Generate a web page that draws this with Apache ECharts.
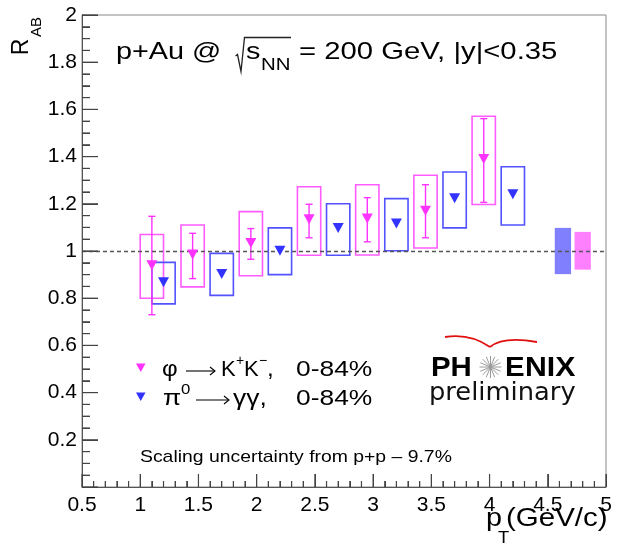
<!DOCTYPE html>
<html>
<head>
<meta charset="utf-8">
<script src="https://cdn.jsdelivr.net/npm/echarts@6/dist/echarts.min.js"></script>
<style>
html,body{margin:0;padding:0;background:#fff;}
#chart{width:634px;height:547px;}
</style>
</head>
<body>
<div id="chart"></div>
<script>
// ---- data ----
var phiPt      = [1.1, 1.45, 1.95, 2.45, 2.95, 3.45, 3.95];
var phiR       = [0.94, 0.985, 1.034, 1.135, 1.138, 1.171, 1.39];
var phiStatLo  = [0.73, 0.883, 0.965, 1.056, 1.039, 1.056, 1.206];
var phiStatHi  = [1.147, 1.075, 1.095, 1.198, 1.226, 1.281, 1.561];
var phiSysLo   = [0.80, 0.848, 0.895, 0.982, 0.983, 1.013, 1.197];
var phiSysHi   = [1.07, 1.11, 1.167, 1.272, 1.281, 1.321, 1.571];

var pi0Pt      = [1.2, 1.7, 2.2, 2.7, 3.2, 3.7, 4.2];
var pi0R       = [0.868, 0.903, 1.001, 1.097, 1.117, 1.223, 1.24];
var pi0SysLo   = [0.776, 0.812, 0.90, 0.982, 1.001, 1.098, 1.11];
var pi0SysHi   = [0.952, 0.99, 1.098, 1.20, 1.222, 1.335, 1.357];

// global scaling uncertainty boxes: [pi0, phi]
var scalePt    = [4.63, 4.80];
var scaleLo    = [0.902, 0.921];
var scaleHi    = [1.098, 1.081];

var xTicks = [0.5, 1, 1.5, 2, 2.5, 3, 3.5, 4, 4.5, 5];
var yTicks = [0.2, 0.4, 0.6, 0.8, 1, 1.2, 1.4, 1.6, 1.8, 2];

// ---- styling ----
var MAG = '#ff33ff', MAG_BOX = '#ff5cff', MAG_FILL = '#ff80ff';
var BLU = '#3333ff', BLU_BOX = '#5252ff', BLU_FILL = '#8080ff';
var FONT = '"Liberation Sans", Arial, Helvetica, sans-serif';
var BOX_HW = 0.1, SCALE_HW = 0.07;
var X_MIN = 0.5, X_MAX = 5, Y_MIN = 0, Y_MAX = 2;
var W = 634, H = 547, G_L = 82, G_R = 28, G_T = 15, G_B = 60;

function zip3(a,b,c){ return a.map(function(v,i){ return [v,b[i],c[i]]; }); }
function zip2(a,b){ return a.map(function(v,i){ return [v,b[i]]; }); }

function boxRenderer(color, hw){
  return function(params, api){
    var x = api.value(0), lo = api.value(1), hi = api.value(2);
    var p1 = api.coord([x - hw, hi]), p2 = api.coord([x + hw, lo]);
    return {type:'rect', shape:{x:p1[0], y:p1[1], width:p2[0]-p1[0], height:p2[1]-p1[1]},
      style:{fill:'none', stroke:color, lineWidth:1.6}};
  };
}
function fillRenderer(colors, hw){
  return function(params, api){
    var x = api.value(0), lo = api.value(1), hi = api.value(2);
    var p1 = api.coord([x - hw, hi]), p2 = api.coord([x + hw, lo]);
    return {type:'rect', shape:{x:p1[0], y:p1[1], width:p2[0]-p1[0], height:p2[1]-p1[1]},
      style:{fill:colors[params.dataIndex], stroke:null}};
  };
}
function errRenderer(color){
  return function(params, api){
    var x = api.value(0), lo = api.value(1), hi = api.value(2);
    var pt = api.coord([x, hi]), pb = api.coord([x, lo]);
    var c = 3.5;
    return {type:'group', children:[
      {type:'line', shape:{x1:pt[0], y1:pt[1], x2:pb[0], y2:pb[1]}, style:{stroke:color, lineWidth:1.4}},
      {type:'line', shape:{x1:pt[0]-c, y1:pt[1], x2:pt[0]+c, y2:pt[1]}, style:{stroke:color, lineWidth:1.4}},
      {type:'line', shape:{x1:pb[0]-c, y1:pb[1], x2:pb[0]+c, y2:pb[1]}, style:{stroke:color, lineWidth:1.4}}
    ]};
  };
}

function fmt(v){ return String(Math.round(v*10)/10); }

// star spokes for the logo
var starSpokes = [];
(function(){
  var cx = 490.5, cy = 367, r = 11, n = 16;
  for (var i = 0; i < n; i++){
    var a = i * Math.PI * 2 / n;
    starSpokes.push({type:'line', shape:{x1:cx, y1:cy, x2:cx + r*Math.cos(a), y2:cy + r*Math.sin(a)},
      style:{stroke:'#9a9a9a', lineWidth:1}});
  }
})();

function txt(x, y, s, size, sx, extra){
  var st = {text:s, fontFamily:FONT, fontSize:size, fill:'#000', align:'left', verticalAlign:'middle'};
  if (extra) for (var k in extra) st[k] = extra[k];
  return {type:'text', x:x, y:y, scaleX:sx || 1, style:st};
}
function arrow(x0, x1, y){
  return {type:'group', children:[
    {type:'line', shape:{x1:x0, y1:y, x2:x1, y2:y}, style:{stroke:'#000', lineWidth:1.1}},
    {type:'polyline', shape:{points:[[x1-5,y-4],[x1,y],[x1-5,y+4]]}, style:{stroke:'#000', lineWidth:1.1, fill:null}}
  ]};
}

// axis tick marks along the frame's left and bottom edges
var ticks = [];
(function(){
  var plotW = W - G_L - G_R, plotH = H - G_T - G_B, i;
  for (i = 5; i <= 50; i++){
    var px = G_L + (i/10 - X_MIN) / (X_MAX - X_MIN) * plotW;
    var lx = (i % 5 === 0) ? 13 : 6;
    ticks.push({type:'line', z:100, shape:{x1:px, y1:H - G_B, x2:px, y2:H - G_B - lx}, style:{stroke:'#444', lineWidth:1.2}});
  }
  for (i = 0; i <= 40; i++){
    var py = H - G_B - (i/20 - Y_MIN) / (Y_MAX - Y_MIN) * plotH;
    var ly = (i % 4 === 0) ? 16 : 8;
    ticks.push({type:'line', z:100, shape:{x1:G_L, y1:py, x2:G_L + ly, y2:py}, style:{stroke:'#444', lineWidth:1.2}});
  }
})();

var decor = [
  // y-axis title R_AB
  {type:'text', x:22, y:47, rotation:Math.PI/2, style:{text:'R', fontFamily:FONT, fontSize:23, fill:'#000', align:'center', verticalAlign:'middle'}},
  {type:'text', x:37, y:27, rotation:Math.PI/2, style:{text:'AB', fontFamily:FONT, fontSize:15, fill:'#000', align:'center', verticalAlign:'middle'}},
  // x-axis title p_T(GeV/c)
  txt(486, 519, 'p', 25, 1.15),
  txt(498, 539, 'T', 16, 1.15),
  txt(506, 519, '(GeV/c)', 25, 1.18),
  // header text
  txt(116, 52, 'p+Au @', 24, 1.2),
  {type:'polyline', shape:{points:[[235.5,56],[237.5,54.5],[241,71.5],[244.5,37.5],[291,37.5]]}, style:{stroke:'#222', lineWidth:1.3, fill:null}},
  txt(246, 52, 's', 24, 1.2),
  txt(261, 65, 'NN', 17, 1.2),
  txt(299, 52, '= 200 GeV, |y|<0.35', 24, 1.22),
  // legend row 1: phi -> K+K-
  {type:'polygon', shape:{points:[[136,363.5],[145.5,363.5],[140.75,372]]}, style:{fill:MAG}},
  txt(162, 370, 'φ', 22, 1.1),
  arrow(186, 215, 371),
  txt(221, 370, 'K', 22, 1.0),
  txt(236, 361, '+', 14, 1.0),
  txt(244, 370, 'K', 22, 1.0),
  txt(259, 361, '−', 14, 1.0),
  txt(267, 370, ',', 22, 1.1),
  txt(296, 370, '0-84%', 22, 1.2),
  // legend row 2: pi0 -> gamma gamma
  {type:'polygon', shape:{points:[[136,392.5],[145.5,392.5],[140.75,401]]}, style:{fill:BLU}},
  txt(163, 399, 'π', 22, 1.2),
  txt(181, 390, '0', 14, 1.2),
  arrow(196, 229, 400),
  txt(233, 399, 'γγ,', 22, 1.2),
  txt(296, 399, '0-84%', 22, 1.2),
  // PHENIX preliminary logo
  {type:'bezierCurve', shape:{x1:445, y1:337, cpx1:470, cpy1:333, x2:490, y2:347}, style:{stroke:'#e01010', lineWidth:1.8, fill:null}},
  {type:'bezierCurve', shape:{x1:490, y1:347, cpx1:503, cpy1:336, x2:537, y2:342}, style:{stroke:'#e01010', lineWidth:1.8, fill:null}},
  txt(431, 368, 'PH', 28, 1.05, {fontWeight:'bold'}),
  {type:'group', children:starSpokes},
  txt(505, 368, 'E', 28, 1.05, {fontWeight:'bold'}),
  txt(525, 368, 'NIX', 28, 1.08, {fontWeight:'bold'}),
  txt(429, 393, 'preliminary', 25, 1.03, {fontFamily:'"DejaVu Sans", Verdana, sans-serif', fill:'#111'}),
  // scaling note
  txt(140, 457, 'Scaling uncertainty from p+p – 9.7%', 17, 1.14)
];

var chart = echarts.init(document.getElementById('chart'), null, {renderer:'canvas'});
chart.setOption({
  animation:false,
  backgroundColor:'#fff',
  grid:{left:G_L, right:G_R, top:G_T, bottom:G_B, show:true, borderColor:'#888', borderWidth:1, backgroundColor:'transparent'},
  xAxis:{
    type:'value', min:X_MIN, max:X_MAX, interval:0.5,
    axisLine:{show:true, onZero:false, lineStyle:{color:'#555', width:1}},
    axisTick:{show:true, inside:true, length:13, lineStyle:{color:'#444', width:1}},
    minorTick:{show:true, splitNumber:5, length:6, lineStyle:{color:'#444', width:1}},
    splitLine:{show:false},
    axisLabel:{fontFamily:FONT, fontSize:21, color:'#000', margin:8, formatter:function(v){ return xTicks.indexOf(Math.round(v*10)/10) >= 0 ? fmt(v) : ''; }}
  },
  yAxis:{
    type:'value', min:Y_MIN, max:Y_MAX, interval:0.2,
    axisLine:{show:true, onZero:false, lineStyle:{color:'#555', width:1}},
    axisTick:{show:true, inside:true, length:16, lineStyle:{color:'#444', width:1}},
    minorTick:{show:true, splitNumber:4, length:8, lineStyle:{color:'#444', width:1}},
    splitLine:{show:false},
    axisLabel:{fontFamily:FONT, fontSize:21, color:'#000', margin:5, formatter:function(v){ return yTicks.indexOf(Math.round(v*10)/10) >= 0 ? fmt(v) : ''; }}
  },
  graphic:{elements: decor.concat(ticks)},
  series:[
    {type:'custom', name:'scale', renderItem:fillRenderer([BLU_FILL, MAG_FILL], SCALE_HW),
      data:zip3(scalePt, scaleLo, scaleHi), encode:{x:0, y:[1,2]}, z:2,
      markLine:{silent:true, symbol:['none','none'], label:{show:false},
        lineStyle:{color:'#555', type:[4,3], width:1.3}, data:[{yAxis:1}]}},
    {type:'custom', name:'phiSys', renderItem:boxRenderer(MAG_BOX, BOX_HW),
      data:zip3(phiPt, phiSysLo, phiSysHi), encode:{x:0, y:[1,2]}, z:3},
    {type:'custom', name:'pi0Sys', renderItem:boxRenderer(BLU_BOX, BOX_HW),
      data:zip3(pi0Pt, pi0SysLo, pi0SysHi), encode:{x:0, y:[1,2]}, z:3},
    {type:'custom', name:'phiStat', renderItem:errRenderer(MAG),
      data:zip3(phiPt, phiStatLo, phiStatHi), encode:{x:0, y:[1,2]}, z:4},
    {type:'scatter', name:'phi', data:zip2(phiPt, phiR), symbol:'triangle', symbolRotate:180,
      symbolSize:[11,10], itemStyle:{color:MAG, opacity:1}, z:5},
    {type:'scatter', name:'pi0', data:zip2(pi0Pt, pi0R), symbol:'triangle', symbolRotate:180,
      symbolSize:[11,10], itemStyle:{color:BLU, opacity:1}, z:5}
  ]
});
</script>
</body>
</html>
